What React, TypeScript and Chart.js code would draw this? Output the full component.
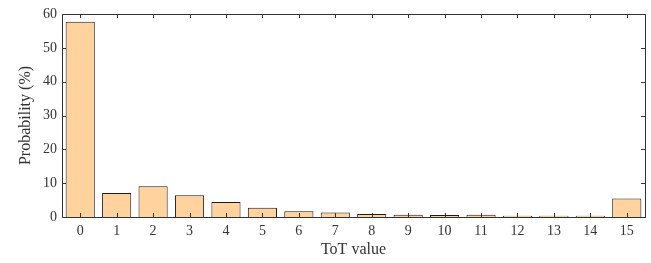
import React, { useEffect, useRef } from "react";
import { Chart, registerables } from "chart.js";

Chart.register(...registerables);

const categories = ["0","1","2","3","4","5","6","7","8","9","10","11","12","13","14","15"];
const probability = [57.7, 7.1, 9.1, 6.4, 4.4, 2.7, 1.7, 1.3, 0.9, 0.7, 0.6, 0.7, 0.4, 0.4, 0.4, 5.5];
const yTicks = [0, 10, 20, 30, 40, 50, 60];

const FONT = "'Liberation Serif', 'Times New Roman', serif";
const AXIS = "#333333";

const framePlugin = {
  id: "frame",
  afterDatasetsDraw(chart: any) {
    const { ctx, chartArea: a, scales } = chart;
    const L = 4;
    ctx.save();
    ctx.strokeStyle = AXIS;
    ctx.lineWidth = 1;
    ctx.beginPath();
    const x = scales.x;
    for (let i = 0; i < categories.length; i++) {
      const px = Math.round(x.getPixelForTick(i)) + 0.5;
      ctx.moveTo(px, a.top);
      ctx.lineTo(px, a.top + L);
      ctx.moveTo(px, a.bottom);
      ctx.lineTo(px, a.bottom - L);
    }
    const y = scales.y;
    for (const v of yTicks) {
      const py = Math.round(y.getPixelForValue(v)) + 0.5;
      ctx.moveTo(a.left, py);
      ctx.lineTo(a.left + L, py);
      ctx.moveTo(a.right, py);
      ctx.lineTo(a.right - L, py);
    }
    ctx.stroke();
    ctx.strokeRect(Math.round(a.left) + 0.5, Math.round(a.top) + 0.5, Math.round(a.right - a.left), Math.round(a.bottom - a.top));
    ctx.restore();
  },
};

export default function App() {
  const ref = useRef<HTMLCanvasElement>(null);
  useEffect(() => {
    document.body.style.margin = "0";
    const chart = new Chart(ref.current!, {
      type: "bar",
      data: {
        labels: categories,
        datasets: [
          {
            data: probability,
            backgroundColor: "#FFD29E",
            borderColor: "#1a1a1a",
            borderWidth: 1,
            barPercentage: 0.8,
            categoryPercentage: 1,
          },
        ],
      },
      options: {
        animation: false,
        responsive: false,
        maintainAspectRatio: false,
        layout: { padding: { top: 14, right: 6, left: 0, bottom: 0 } },
        plugins: { legend: { display: false }, tooltip: { enabled: false } },
        scales: {
          x: {
            grid: { display: false, drawTicks: false },
            border: { display: false },
            ticks: { color: "#333", font: { family: FONT, size: 14 }, padding: 6, maxRotation: 0 },
            title: { display: true, text: "ToT value", color: "#333", font: { family: FONT, size: 16 }, padding: { top: 3 } },
            afterFit(scale: any) { scale.height = 46; },
          },
          y: {
            min: 0,
            max: 60,
            grid: { display: false, drawTicks: false },
            border: { display: false },
            ticks: { stepSize: 10, color: "#333", font: { family: FONT, size: 14 }, padding: 5 },
            title: { display: true, text: "Probability (%)", color: "#333", font: { family: FONT, size: 16 }, padding: { top: 16, bottom: 2 } },
            afterFit(scale: any) { scale.width = 62; },
          },
        },
      },
      plugins: [framePlugin],
    });
    return () => chart.destroy();
  }, []);
  return <canvas ref={ref} width={651} height={263} style={{ display: "block" }} />;
}
